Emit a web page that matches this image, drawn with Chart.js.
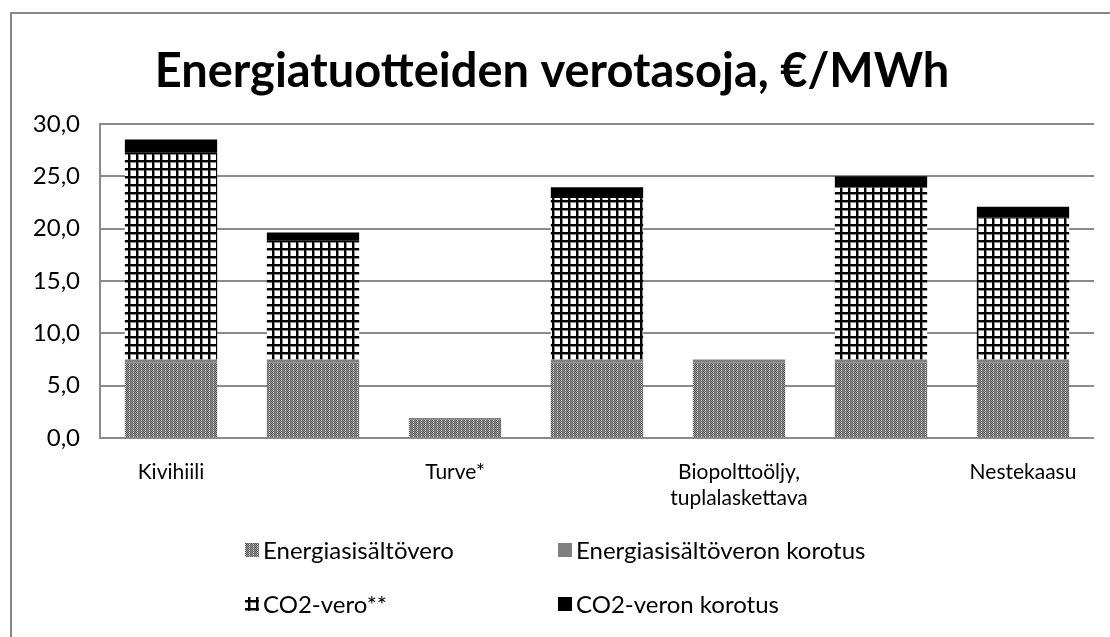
<!DOCTYPE html>
<html>
<head>
<meta charset="utf-8">
<script src="https://cdn.jsdelivr.net/npm/chart.js@4/dist/chart.umd.min.js"></script>
<style>
html,body{margin:0;padding:0;background:#fff;}
canvas{display:block;}
</style>
</head>
<body>
<canvas id="c" width="1110" height="637"></canvas>
<script>
// ---- data ----
const categories = ['Kivihiili', '', 'Turve*', '', ['Biopolttoöljy,', 'tuplalaskettava'], '', 'Nestekaasu'];
const energiasisaltovero = [7.2, 7.2, 1.8, 7.2, 7.2, 7.2, 7.2];
const energiasisaltoveronKorotus = [0.3, 0.3, 0.1, 0.3, 0.3, 0.3, 0.3];
const co2Vero = [19.75, 11.4, 0, 15.4, 0, 16.4, 13.55];
const co2VeronKorotus = [1.28, 0.74, 0, 1.05, 0, 1.11, 1.05];
const seriesNames = ['Energiasisältövero', 'Energiasisältöveron korotus', 'CO2-vero**', 'CO2-veron korotus'];
const yTicks = [0, 5, 10, 15, 20, 25, 30];
const titleText = 'Energiatuotteiden verotasoja, €/MWh';

const FONT = 'Lato';

function makePattern(w, h, draw) {
  const cv = document.createElement('canvas');
  cv.width = w; cv.height = h;
  const g = cv.getContext('2d');
  draw(g);
  return g.createPattern(cv, 'repeat');
}
const ctx0 = document.getElementById('c').getContext('2d');
const dotPattern = makePattern(4, 4, g => {
  for (let y = 0; y < 4; y++) for (let x = 0; x < 4; x++) {
    g.fillStyle = ((x + y) % 2 === 0) ? '#555555' : '#9c9c9c';
    if (x % 4 === 1 && y % 2 === 0) g.fillStyle = '#e6e6e6';
    g.fillRect(x, y, 1, 1);
  }
});
const gridPattern = makePattern(8, 8, g => {
  g.fillStyle = '#ffffff'; g.fillRect(0, 0, 8, 8);
  g.fillStyle = '#8a8a8a'; g.fillRect(0, 0, 3, 8); g.fillRect(0, 0, 8, 3);
  g.fillStyle = '#000000'; g.fillRect(0, 0, 2, 8); g.fillRect(0, 0, 8, 2);
});

const frameAndLegend = {
  id: 'frameAndLegend',
  beforeDraw(chart) {
    const c = chart.ctx;
    c.save();
    c.fillStyle = '#fff';
    c.fillRect(0, 0, chart.width, chart.height);
    c.strokeStyle = '#868686';
    c.lineWidth = 2;
    c.beginPath();
    c.moveTo(11, chart.height);
    c.lineTo(11, 13);
    c.lineTo(chart.width, 13);
    c.stroke();
    c.restore();
  },
  afterDraw(chart) {
    const c = chart.ctx;
    const cols = [245, 558];
    const rows = [550, 604];
    c.save();
    c.font = '24px ' + FONT;
    c.textBaseline = 'middle';
    c.fillStyle = '#000';
    chart.data.datasets.forEach((ds, i) => {
      const x = cols[i % 2];
      const y = rows[Math.floor(i / 2)];
      c.fillStyle = ds.backgroundColor;
      c.fillRect(x, y - 7, 14, 14);
      c.fillStyle = '#000';
      c.fillText(ds.label, x + 18, y + 1);
    });
    c.restore();
  }
};

new Chart(ctx0, {
  type: 'bar',
  data: {
    labels: categories,
    datasets: [
      { label: seriesNames[0], data: energiasisaltovero, backgroundColor: dotPattern },
      { label: seriesNames[1], data: energiasisaltoveronKorotus, backgroundColor: '#808080' },
      { label: seriesNames[2], data: co2Vero, backgroundColor: gridPattern },
      { label: seriesNames[3], data: co2VeronKorotus, backgroundColor: '#000000' }
    ]
  },
  options: {
    responsive: false,
    animation: false,
    devicePixelRatio: 1,
    datasets: { bar: { barPercentage: 0.65, categoryPercentage: 1, borderWidth: 0 } },
    layout: { padding: { left: 10, right: 16, top: 12, bottom: 109 } },
    plugins: {
      legend: { display: false },
      tooltip: { enabled: false },
      title: {
        display: true,
        text: titleText,
        color: '#000',
        font: { family: FONT, size: 47, weight: 'bold', lineHeight: 1.2 },
        padding: { top: 31.8, bottom: 23.8 }
      }
    },
    scales: {
      x: {
        stacked: true,
        grid: { display: false },
        border: { display: false },
        ticks: {
          color: '#000',
          font: { family: FONT, size: 21, lineHeight: 1.2 },
          padding: 14,
          maxRotation: 0,
          autoSkip: false
        },
        afterFit(s) { s.height = 90; }
      },
      y: {
        stacked: true,
        min: 0,
        max: 30,
        afterBuildTicks(s) { s.ticks = yTicks.map(v => ({ value: v })); },
        grid: { color: '#8a8a8a', lineWidth: 2, drawTicks: false },
        border: { display: true, color: '#8a8a8a', width: 2 },
        ticks: {
          color: '#000',
          font: { family: FONT, size: 24 },
          padding: 20,
          callback: v => v.toFixed(1).replace('.', ',')
        },
        afterFit(s) { s.width = 90; }
      }
    }
  },
  plugins: [frameAndLegend]
});
</script>
</body>
</html>
